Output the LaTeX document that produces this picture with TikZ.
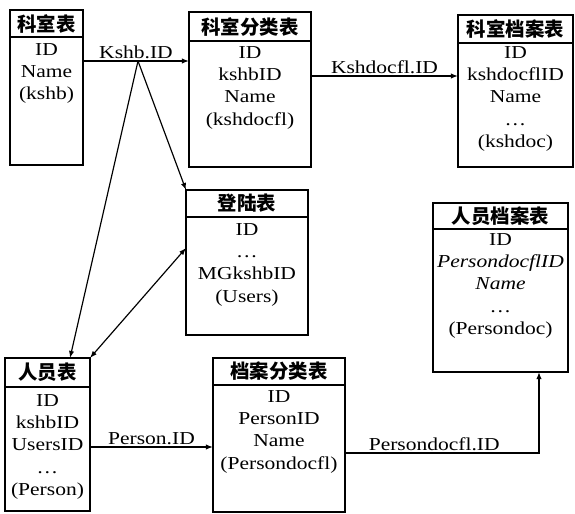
\documentclass[tikz,border=0pt]{standalone}
\usepackage{fontspec}
\setmainfont{Liberation Serif}[FakeStretch=1.18]
\newfontfamily\cjk{Noto Sans CJK SC}
\usetikzlibrary{arrows.meta,calc}
\tikzset{%
  tblhead/.style 2 args = {rectangle, draw, line width=1.1pt,%
                     anchor=north west, outer sep=0pt, inner sep=0pt,%
                     minimum width=#1*0.85pt, minimum height=#2*0.85pt,%
                     font=\cjk\bfseries\fontsize{16.5}{17}\selectfont},%
  tblbody/.style 2 args = {rectangle, draw, line width=1.1pt,%
                     anchor=north west, outer sep=0pt, inner sep=0pt,%
                     minimum width=#1*0.85pt, minimum height=#2*0.85pt},%
  fields/.style    = {anchor=north, align=center, inner sep=0pt,%
                      font=\fontsize{15.5}{19}\selectfont},%
  link/.style      = {line width=1pt, -{Latex[length=6pt,width=4.5pt]}},%
  dlink/.style     = {line width=1pt, {Latex[length=6pt,width=4.5pt]}-{Latex[length=6pt,width=4.5pt]}},%
  keylabel/.style  = {font=\fontsize{15.5}{17}\selectfont, inner sep=1.5pt}%
}
\begin{document}
\begin{tikzpicture}[x=0.85pt,y=-0.85pt]
	\useasboundingbox (0,0) rectangle (575,514);
	% top row
	\node[tblhead={73}{27}] (kshb-h) at (10,10) {科室表};
	\node[tblbody={73}{128}] (kshb) at (kshb-h.south west) {};
	\node[fields] at ($(kshb.north)+(0,6)$) {ID\\Name\\(kshb)};
	\node[tblhead={122}{29}] (kshdocfl-h) at (189,12) {科室分类表};
	\node[tblbody={122}{126}] (kshdocfl) at (kshdocfl-h.south west) {};
	\node[fields] at ($(kshdocfl.north)+(0,5)$) {ID\\kshbID\\Name\\(kshdocfl)};
	\node[tblhead={115}{28}] (kshdoc-h) at (458,15) {科室档案表};
	\node[tblbody={115}{124}] (kshdoc) at (kshdoc-h.south west) {};
	\node[fields] at ($(kshdoc.north)+(0,3)$) {ID\\kshdocflID\\Name\\…\\(kshdoc)};
	% middle row
	\node[tblhead={122}{27}] (users-h) at (186,190) {登陆表};
	\node[tblbody={122}{118}] (users) at (users-h.south west) {};
	\node[fields] at ($(users.north)+(0,6)$) {ID\\…\\MGkshbID\\(Users)};
	\node[tblhead={135}{26}] (persondoc-h) at (433,203) {人员档案表};
	\node[tblbody={135}{143}] (persondoc) at (persondoc-h.south west) {};
	\node[fields] at ($(persondoc.north)+(0,4)$) {ID\\\textit{PersondocflID}\\\textit{Name}\\…\\(Persondoc)};
	% bottom row
	\node[tblhead={85}{29}] (person-h) at (5,358) {人员表};
	\node[tblbody={85}{124}] (person) at (person-h.south west) {};
	\node[fields] at ($(person.north)+(0,7)$) {ID\\kshbID\\UsersID\\…\\(Person)};
	\node[tblhead={132}{27}] (persondocfl-h) at (213,358) {档案分类表};
	\node[tblbody={132}{127}] (persondocfl) at (persondocfl-h.south west) {};
	\node[fields] at ($(persondocfl.north)+(0,5)$) {ID\\PersonID\\Name\\(Persondocfl)};
	% keys
	\coordinate (kshbid) at ($(kshb.north east)+(0,24)$);
	\coordinate (j) at ($(kshbid)+(55,0)$);
	\draw[link] (kshbid) -- node[keylabel, above] {Kshb.ID} (kshbid -| kshdocfl.west);
	\draw[link] (j) -- (users-h.north west);
	\draw[link] (j) -- ($(person-h.north west)+(65,0)$);
	\draw[dlink] ($(users.north west)+(0,31)$) -- (person-h.north east);
	\coordinate (kshdocflid) at ($(kshdocfl.north east)+(0,35)$);
	\draw[link] (kshdocflid) -- node[keylabel, above] {Kshdocfl.ID} (kshdocflid -| kshdoc.west);
	\coordinate (personid) at ($(person.north east)+(0,60)$);
	\draw[link] (personid) -- node[keylabel, above] {Person.ID} (personid -| persondocfl.west);
	\coordinate (pdfid) at ($(persondocfl.north east)+(0,68)$);
	\draw[link] (pdfid) -| node[keylabel, above, pos=0.23] {Persondocfl.ID} ($(persondoc.south west)+(106,0)$);
\end{tikzpicture}
\end{document}
